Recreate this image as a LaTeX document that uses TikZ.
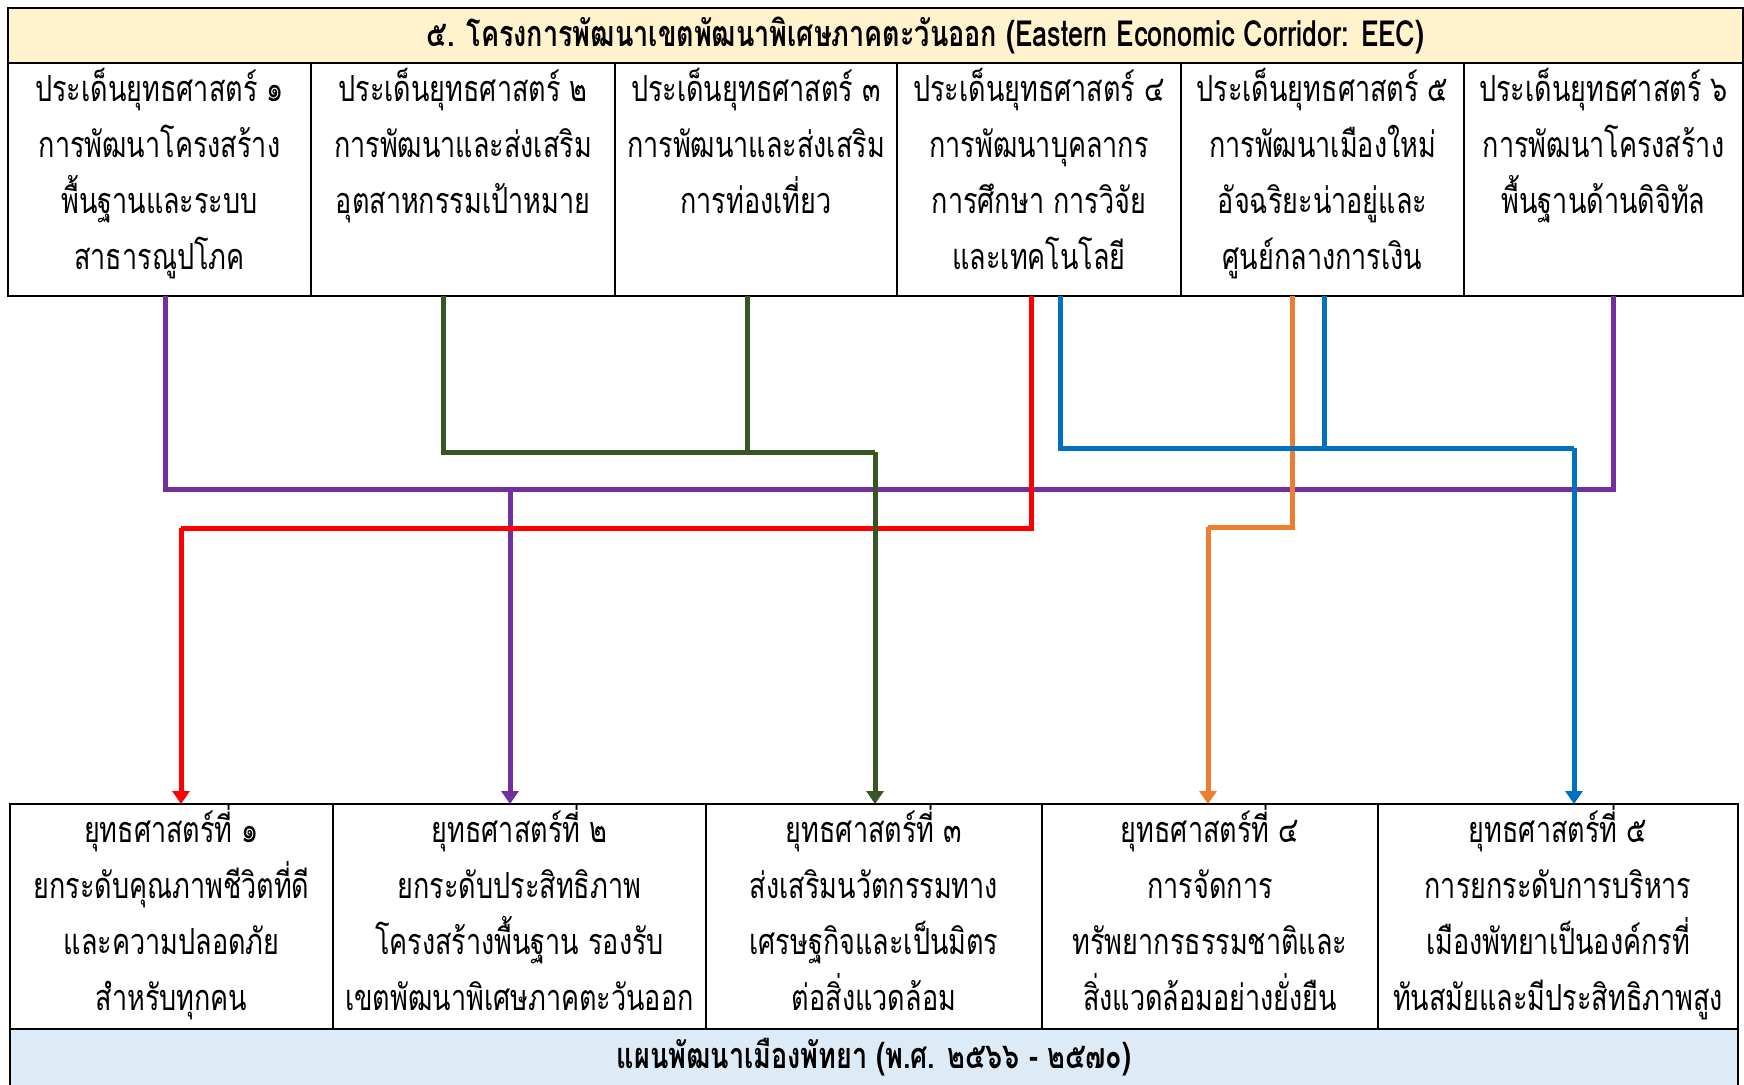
\documentclass[tikz,border=0pt]{standalone}
\usepackage{fontspec}
\newfontfamily\thaifont[Script=Thai, FakeStretch=0.75]{Loma}
\usetikzlibrary{positioning,arrows.meta}
\definecolor{hdrfill}{HTML}{FFF2CC}
\definecolor{ftrfill}{HTML}{DDEBF7}
\definecolor{eecpurple}{HTML}{7030A0}
\definecolor{eecgreen}{HTML}{375623}
\definecolor{eecred}{HTML}{FF0000}
\definecolor{eecorange}{HTML}{ED7D31}
\definecolor{eecblue}{HTML}{0070C0}

\begin{document}
\begin{tikzpicture}[
x=0.5pt, y=-0.5pt,
cell/.style={rectangle, draw=black, line width=1pt, outer sep=0pt, align=center, font=\thaifont\fontsize{18}{28}\selectfont},
issue/.style={cell, inner ysep=0pt, text height=103pt, text depth=13.5pt},
goal/.style={cell, inner ysep=0pt, text height=103pt, text depth=9.5pt},
banner/.style={cell, font=\thaifont\bfseries\fontsize{18}{28}\selectfont},
link/.style={line width=2.5pt},
tip/.style={link, -{Triangle[width=8.5pt, length=6.5pt]}}
]
\useasboundingbox (0,0) rectangle (1744,1084);

%Nodes
\node[banner, fill=hdrfill, minimum width=867.5pt, minimum height=27.5pt, anchor=north west] (eec) at (8,8) {\hspace*{50pt}๕. โครงการพัฒนาเขตพัฒนาพิเศษภาคตะวันออก (Eastern Economic Corridor: EEC)};
\node[issue, minimum width=151.5pt, below right=0pt and 0pt of eec.south west] (p1) {ประเด็นยุทธศาสตร์ ๑\\การพัฒนาโครงสร้าง\\พื้นฐานและระบบ\\สาธารณูปโภค};
\node[issue, minimum width=152pt, right=0pt of p1] (p2) {ประเด็นยุทธศาสตร์ ๒\\การพัฒนาและส่งเสริม\\อุตสาหกรรมเป้าหมาย\\~};
\node[issue, minimum width=141pt, right=0pt of p2] (p3) {ประเด็นยุทธศาสตร์ ๓\\การพัฒนาและส่งเสริม\\การท่องเที่ยว\\~};
\node[issue, minimum width=142pt, right=0pt of p3] (p4) {ประเด็นยุทธศาสตร์ ๔\\การพัฒนาบุคลากร\\การศึกษา การวิจัย\\และเทคโนโลยี};
\node[issue, minimum width=141.5pt, right=0pt of p4] (p5) {ประเด็นยุทธศาสตร์ ๕\\การพัฒนาเมืองใหม่\\อัจฉริยะน่าอยู่และ\\ศูนย์กลางการเงิน};
\node[issue, minimum width=139.5pt, right=0pt of p5] (p6) {ประเด็นยุทธศาสตร์ ๖\\การพัฒนาโครงสร้าง\\พื้นฐานด้านดิจิทัล\\~};

\node[goal, minimum width=161.5pt, anchor=north west] (s1) at (10,804) {ยุทธศาสตร์ที่ ๑\\ยกระดับคุณภาพชีวิตที่ดี\\และความปลอดภัย\\สำหรับทุกคน};
\node[goal, minimum width=186.5pt, right=0pt of s1] (s2) {ยุทธศาสตร์ที่ ๒\\ยกระดับประสิทธิภาพ\\โครงสร้างพื้นฐาน รองรับ\\เขตพัฒนาพิเศษภาคตะวันออก};
\node[goal, minimum width=168pt, right=0pt of s2] (s3) {ยุทธศาสตร์ที่ ๓\\ส่งเสริมนวัตกรรมทาง\\เศรษฐกิจและเป็นมิตร\\ต่อสิ่งแวดล้อม};
\node[goal, minimum width=168pt, right=0pt of s3] (s4) {ยุทธศาสตร์ที่ ๔\\การจัดการ\\ทรัพยากรธรรมชาติและ\\สิ่งแวดล้อมอย่างยั่งยืน};
\node[goal, minimum width=180pt, right=0pt of s4] (s5) {ยุทธศาสตร์ที่ ๕\\การยกระดับการบริหาร\\เมืองพัทยาเป็นองค์กรที่\\ทันสมัยและมีประสิทธิภาพสูง};
\node[banner, fill=ftrfill, minimum width=864pt, minimum height=28.5pt, below right=0pt and 0pt of s1.south west] (plan) {แผนพัฒนาเมืองพัทยา (พ.ศ. ๒๕๖๖ - ๒๕๗๐)};

%Junctions
\coordinate (pJ) at (510,489);
\coordinate (oJ) at (1208,527);
\coordinate (rJ) at (181,528);
\coordinate (bJ) at (1574,448);
\coordinate (gJ) at (875,452);

%Connections
\draw[link, eecpurple] ([xshift=2.75pt]p1.south) |- (pJ);
\draw[link, eecpurple] ([xshift=5pt]p6.south) |- (pJ);
\draw[tip, eecpurple] (pJ) -- (pJ |- s2.north);

\draw[link, eecorange] ([xshift=-15pt]p5.south) |- (oJ);
\draw[tip, eecorange] (oJ) -- (oJ |- s4.north);

\draw[link, eecred] ([xshift=-4pt]p4.south) |- (rJ);
\draw[tip, eecred] (rJ) -- (rJ |- s1.north);

\draw[link, eecblue] ([xshift=10.5pt]p4.south) |- (bJ);
\draw[link, eecblue] ([xshift=1pt]p5.south) |- (bJ);
\draw[tip, eecblue] (bJ) -- (bJ |- s5.north);

\draw[link, eecgreen] ([xshift=-10pt]p2.south) |- (gJ);
\draw[link, eecgreen] ([xshift=-4.5pt]p3.south) |- (gJ);
\draw[tip, eecgreen] (gJ) -- (gJ |- s3.north);
\end{tikzpicture}
\end{document}
